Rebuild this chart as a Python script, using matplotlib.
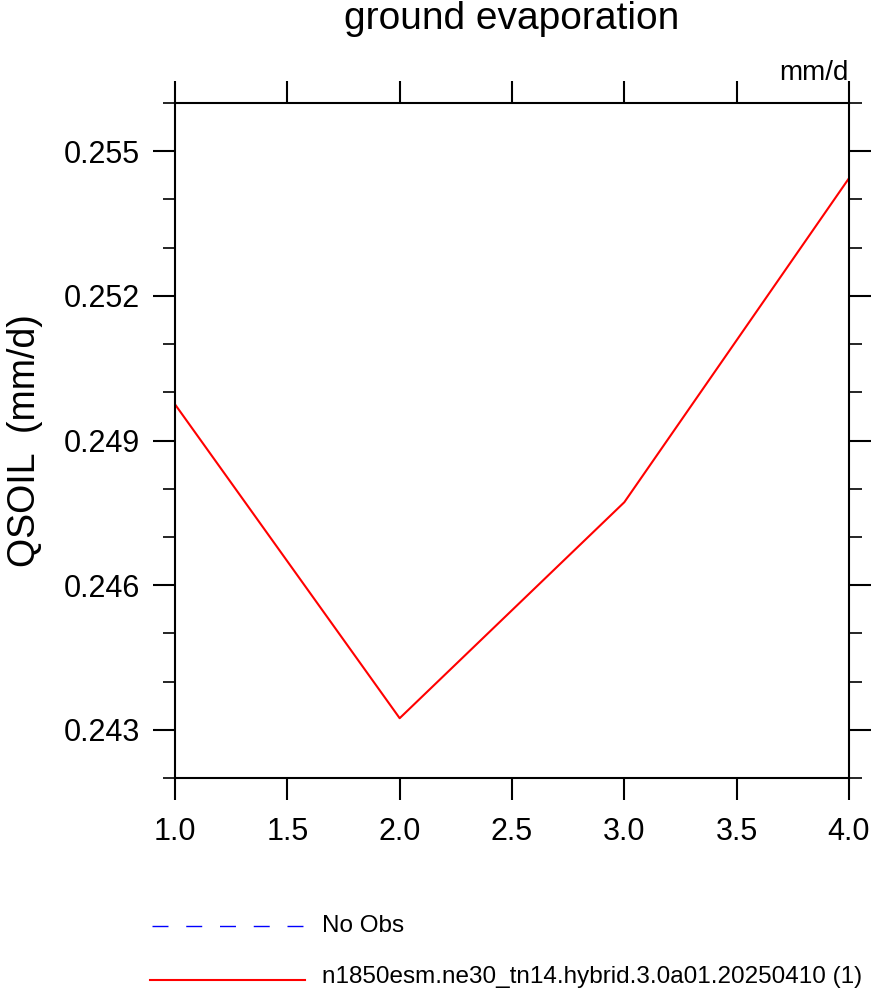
import matplotlib
matplotlib.use("Agg")
import matplotlib.pyplot as plt
from matplotlib.lines import Line2D
from matplotlib.ticker import MultipleLocator

plt.rcParams["font.family"] = ["Liberation Sans", "DejaVu Sans"]

x = [1.0, 2.0, 3.0, 4.0]
qsoil = [0.24975, 0.24324, 0.24772, 0.25444]
title = "ground evaporation"
ylabel = "QSOIL  (mm/d)"
units = "mm/d"
obs_label = "No Obs"
case_label = "n1850esm.ne30_tn14.hybrid.3.0a01.20250410 (1)"

W, H = 871, 993
fig = plt.figure(figsize=(W / 100, H / 100), dpi=100)
ax = fig.add_axes([175 / W, 1 - 778 / H, (849 - 175) / W, (778 - 103) / H])

ax.plot(x, qsoil, color="red", lw=1.5)

ax.set_xlim(1.0, 4.0)
ax.set_ylim(0.242, 0.256)
ax.yaxis.set_minor_locator(MultipleLocator(0.001))
ax.set_yticks([0.243, 0.246, 0.249, 0.252, 0.255])
ax.set_yticklabels(["0.243", "0.246", "0.249", "0.252", "0.255"])
ax.set_xticks([1.0, 1.5, 2.0, 2.5, 3.0, 3.5, 4.0])
ax.set_xticklabels([f"{v:.1f}" for v in ax.get_xticks()])

for s in ax.spines.values():
    s.set_linewidth(1.5)
ax.tick_params(which="both", direction="out", top=True, right=True,
               labelsize=22, width=1.5, pad=9)
ax.tick_params(axis="x", pad=12)
ax.tick_params(which="major", length=16)
ax.tick_params(which="minor", length=9, width=1.2)

ax.set_ylabel(ylabel, fontsize=27, labelpad=15)
fig.text(0.5 * (175 + 849) / W, 1 - 19 / H, title, ha="center", va="center", fontsize=28)
fig.text(849 / W, 1 - 73 / H, units, ha="right", va="center", fontsize=20)

# legend drawn below the axes
lax = fig.add_axes([0, 0, 1, 1], facecolor="none")
lax.set_xlim(0, W)
lax.set_ylim(H, 0)
lax.axis("off")
lax.add_line(Line2D([152, 303], [926, 926], color="blue", lw=1.0, ls=(0, (11.5, 12.8))))
lax.add_line(Line2D([150, 305], [980, 980], color="red", lw=1.5))
lax.text(322, 926, obs_label, va="center", fontsize=17.5)
lax.text(322, 977, case_label, va="center", fontsize=17.5)

fig.savefig("out.png", dpi=100)
